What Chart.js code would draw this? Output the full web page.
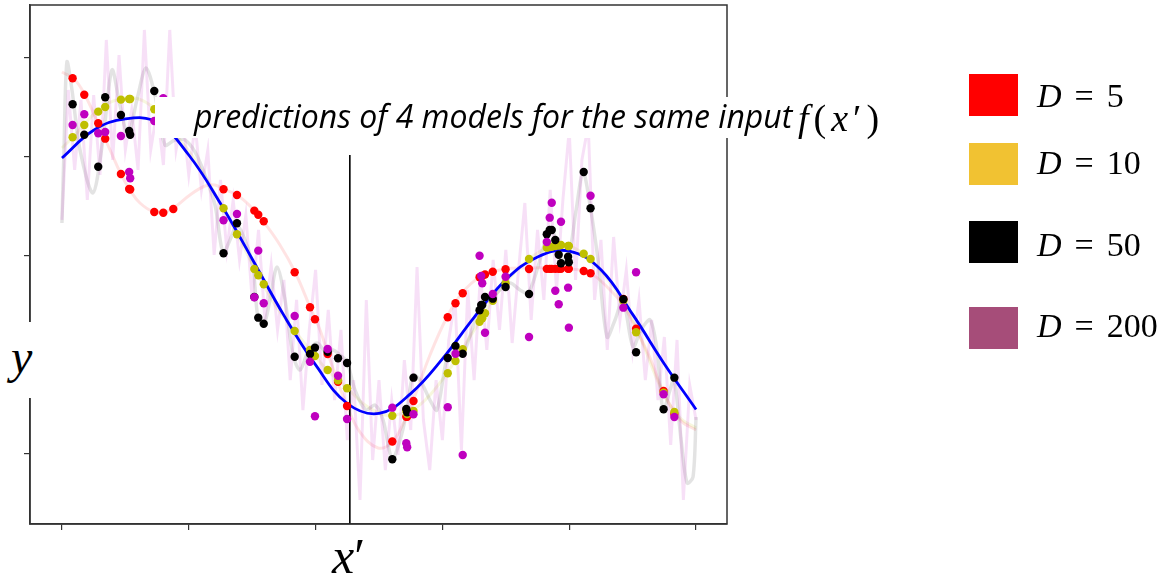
<!DOCTYPE html>
<html><head><meta charset="utf-8">
<script src="https://cdn.jsdelivr.net/npm/chart.js@4.4.1/dist/chart.umd.min.js"></script>
<style>
html,body{margin:0;padding:0;background:#fff;}
#wrap{position:relative;width:1161px;height:580px;overflow:hidden;background:#fff;}
#c{position:absolute;left:0;top:0;}
.abs{position:absolute;white-space:nowrap;color:#000;}
.math{font-family:"Liberation Serif","DejaVu Serif",serif;}
.sq{position:absolute;left:969px;width:49px;height:42px;}
.leg{position:absolute;left:1037px;font-family:"Liberation Serif",serif;font-size:34px;line-height:34px;white-space:nowrap;}
.leg i{margin-right:13px;}
.leg .eq{margin-right:13px;}
</style></head><body>
<div id="wrap">
<canvas id="c" width="1161" height="580"></canvas>
<div class="abs" style="left:155px;top:97px;width:735px;height:41px;background:#fff;"></div>
<div class="abs" style="left:194px;top:100px;font-family:'Open Sans',sans-serif;font-style:italic;font-size:32px;line-height:32px;">predictions of 4 models for the same input</div>
<div class="abs math" style="left:798px;top:99px;font-size:38px;line-height:38px;letter-spacing:5px;"><i>f</i>(<i>x</i>′)</div>
<div class="abs" style="left:0px;top:322px;width:44px;height:76px;background:#fff;"></div>
<div class="abs math" style="left:11px;top:333px;font-size:48px;line-height:48px;font-style:italic;">y</div>
<div class="abs math" style="left:332px;top:531px;font-size:50px;line-height:50px;"><i>x</i>′</div>
<div id="legend"></div>
</div>
<script>
// ---- data ----
const xPrime = 2.27;
const xTicks = [0, 1, 2, 3, 4, 5];
const yTicks = [-2, -1, 0, 1, 2];

const legendLabels = ['5', '10', '50', '200'];
const legendColors = ['#ff0000', '#f1c232', '#000000', '#a64d79'];

// ground-truth curve (blue)
const truthX = [0,0.25,0.5,0.75,1,1.25,1.5,1.75,2,2.25,2.5,2.75,3,3.25,3.5,3.75,4,4.25,4.5,4.75,5];
const truthY = [0.99,1.27,1.385,1.35,1.02,0.53,-0.03,-0.60,-1.10,-1.49,-1.59,-1.39,-1.04,-0.62,-0.24,-0.01,0.05,-0.14,-0.59,-1.09,-1.55];

// inputs where the 4 models' predictions are shown
const xs = [0.084,0.176,0.286,0.341,0.465,0.530,0.538,0.728,0.799,0.878,1.274,1.380,1.517,1.548,1.591,1.835,1.956,1.995,2.095,2.177,2.248,2.605,2.715,2.722,2.772,3.042,3.103,3.160,3.293,3.306,3.314,3.336,3.397,3.498,3.683,3.823,3.846,3.862,3.890,3.917,3.935,3.991,3.997,4.114,4.168,4.427,4.527,4.744,4.829];
const predD5 = [1.795,1.629,1.340,1.185,0.828,0.677,0.672,0.444,0.437,0.475,0.674,0.616,0.458,0.417,0.351,-0.165,-0.518,-0.639,-0.990,-1.270,-1.515,-1.874,-1.623,-1.623,-1.465,-0.619,-0.478,-0.377,-0.215,-0.207,-0.202,-0.187,-0.159,-0.134,-0.131,-0.13,-0.13,-0.13,-0.13,-0.13,-0.13,-0.13,-0.13,-0.152,-0.175,-0.434,-0.734,-1.364,-1.596];
const predD10 = [1.199,1.323,1.458,1.505,1.579,1.586,1.586,1.482,1.455,1.424,0.482,0.219,-0.131,-0.195,-0.286,-0.758,-0.949,-1.010,-1.152,-1.256,-1.336,-1.613,-1.566,-1.596,-1.566,-1.185,-1.061,-0.942,-0.664,-0.629,-0.629,-0.579,-0.452,-0.276,-0.030,0.084,0.091,0.094,0.101,0.106,0.111,0.101,0.101,0.023,-0.030,-0.452,-0.771,-1.381,-1.576];
const predD50 = [1.532,1.225,0.902,1.603,1.424,1.263,1.225,1.667,1.374,1.323,0.027,0.330,-0.414,-0.623,-0.684,-1.017,-0.990,-0.926,-0.967,-1.033,-1.081,-2.053,-1.545,-1.579,-1.229,-1.030,-0.909,-0.987,-0.548,-0.495,-0.495,-0.414,-0.431,-0.313,-0.384,0.219,0.263,0.263,0.162,0.013,-0.074,-0.007,-0.064,0.848,0.482,-0.437,-0.973,-1.548,-1.229];
const predD200 = [1.323,1.431,1.239,1.253,1.212,0.848,0.785,1.364,1.593,1.394,0.361,0.424,-0.417,0.054,-0.478,-0.606,-1.068,-1.619,-0.939,-1.209,-1.646,-1.532,-1.892,-1.932,-1.599,-1.527,-0.987,-2.010,0.003,-0.202,-0.276,-0.775,-0.384,-0.209,-0.818,0.141,0.387,0.538,-0.351,-0.488,0.346,-0.320,-0.724,null,0.609,-0.522,-0.165,-1.397,-1.626];

// faint fitted curves of each model
const curveD5X = [0,0.103,0.181,0.284,0.379,0.465,0.536,0.615,0.726,0.812,0.891,1.009,1.128,1.207,1.270,1.380,1.483,1.585,1.719,1.838,1.956,2.035,2.114,2.248,2.350,2.492,2.603,2.705,2.768,2.902,3.036,3.155,3.297,3.494,3.691,3.849,4.006,4.164,4.322,4.424,4.527,4.637,4.740,4.874,5.0];
const curveD5Y = [1.859,1.778,1.626,1.343,1.071,0.828,0.667,0.535,0.444,0.444,0.495,0.616,0.707,0.717,0.677,0.616,0.505,0.354,0.111,-0.162,-0.515,-0.747,-1.051,-1.515,-1.778,-1.939,-1.879,-1.657,-1.465,-1.000,-0.616,-0.374,-0.212,-0.131,-0.121,-0.121,-0.131,-0.172,-0.343,-0.495,-0.737,-1.030,-1.364,-1.657,-1.758];
const curveD10X = [0,0.103,0.221,0.339,0.457,0.576,0.694,0.812,0.931,1.049,1.167,1.270,1.380,1.546,1.680,1.838,1.995,2.114,2.248,2.390,2.547,2.666,2.768,2.902,3.036,3.155,3.297,3.391,3.494,3.683,3.849,3.991,4.117,4.243,4.424,4.558,4.740,4.874,5.0];
const curveD10Y = [1.091,1.222,1.394,1.525,1.586,1.596,1.525,1.374,1.172,0.970,0.717,0.485,0.222,-0.192,-0.495,-0.758,-1.010,-1.182,-1.333,-1.505,-1.606,-1.596,-1.556,-1.404,-1.182,-0.939,-0.657,-0.455,-0.273,-0.030,0.091,0.101,0.020,-0.141,-0.455,-0.818,-1.384,-1.636,-1.737];
const curveD50X = [0,0.016,0.039,0.079,0.142,0.244,0.323,0.394,0.457,0.521,0.591,0.662,0.733,0.812,0.891,0.970,1.049,1.128,1.207,1.270,1.325,1.380,1.443,1.506,1.546,1.593,1.640,1.696,1.759,1.822,1.877,1.940,2.011,2.082,2.137,2.192,2.248,2.311,2.397,2.468,2.532,2.603,2.666,2.721,2.768,2.823,2.902,2.957,3.036,3.099,3.162,3.233,3.297,3.375,3.454,3.533,3.612,3.675,3.746,3.825,3.864,3.896,3.927,3.991,4.054,4.109,4.164,4.227,4.298,4.361,4.424,4.503,4.566,4.637,4.692,4.740,4.795,4.826,4.882,4.929,4.976,5.0];
const curveD50Y = [0.333,1.071,1.960,1.677,1.071,0.636,1.172,1.879,1.525,1.222,1.576,1.899,1.626,1.121,1.172,1.172,1.051,0.818,0.515,0.030,0.162,0.313,0.162,-0.111,-0.626,-0.687,-0.444,-0.111,-0.444,-1.000,-1.152,-0.970,-0.879,-0.970,-0.949,-1.000,-1.071,-1.354,-1.556,-1.505,-1.657,-2.051,-1.859,-1.556,-1.202,-1.253,-1.455,-1.556,-1.030,-0.909,-0.980,-0.747,-0.515,-0.444,-0.343,-0.273,-0.343,-0.374,-0.141,0.212,0.263,0.162,-0.020,-0.020,0.465,0.848,0.515,-0.040,-0.818,-0.646,-0.444,-0.919,-0.747,-0.646,-0.949,-1.556,-1.354,-1.232,-1.859,-2.293,-2.232,-1.626];
const curveD200Step = 0.05;
const curveD200Y = [0.364,1.677,0.869,1.576,0.566,1.626,0.818,2.182,0.970,2.030,
 1.071,1.475,0.869,2.283,1.071,1.475,0.919,2.283,1.071,1.424,
 0.818,1.323,0.667,1.071,0.010,0.768,0.061,0.566,-0.040,0.414,
 -0.444,0.263,-0.646,-0.091,-0.747,-0.242,-1.253,-0.444,-1.556,-0.747,
 -0.141,-1.303,-0.545,-1.455,-0.747,-1.859,-1.253,-2.465,-0.444,-2.061,
 -1.253,-2.162,-1.455,-2.010,-1.051,-1.758,-0.111,-1.657,-2.162,-1.253,
 -1.859,-0.848,-0.444,-1.960,-0.343,-1.253,-0.192,-0.949,-0.040,-0.747,
 0.061,-0.879,-0.141,0.535,-0.646,0.263,-0.444,0.667,-0.343,0.566,
 1.273,-0.242,0.970,1.323,-0.444,0.162,-0.949,0.192,-0.646,-0.141,
 -0.949,-0.444,-1.253,-0.646,-1.455,-0.818,-1.909,-0.848,-2.465,-1.303,
 -1.657];

// ---- build ----
const pts = (X, Y) => X.map((x, i) => ({x, y: Y[i]}));
const curveD200X = curveD200Y.map((_, i) => +(i * curveD200Step).toFixed(2));
const X_MIN = -0.252, X_MAX = 5.244, Y_MIN = -2.707, Y_MAX = 2.535;

const lineDs = (data, color, width, order, tension) => ({
  type: 'line', data, borderColor: color, borderWidth: width, pointRadius: 0,
  fill: false, tension: tension, order, showLine: true
});
const dotDs = (data, color, order) => ({
  type: 'scatter', data, backgroundColor: color, borderWidth: 0,
  pointRadius: 4.2, pointHoverRadius: 4.2, order
});

const framePlugin = {
  id: 'frame',
  afterDraw(chart) {
    const {ctx, chartArea: a} = chart;
    ctx.save();
    ctx.strokeStyle = '#333';
    ctx.lineWidth = 1.5;
    ctx.strokeRect(a.left, a.top, a.right - a.left, a.bottom - a.top);
    ctx.restore();
  }
};

new Chart(document.getElementById('c'), {
  type: 'scatter',
  data: {
    datasets: [
      dotDs(pts(xs, predD200), '#bf00bf', 1),
      dotDs(pts(xs, predD50), '#000000', 2),
      dotDs(pts(xs, predD10), '#bfbf00', 3),
      dotDs(pts(xs, predD5), '#ff0000', 4),
      lineDs([{x: xPrime, y: 1.02}, {x: xPrime, y: Y_MIN}], '#000000', 1.6, 5, 0),
      lineDs(pts(truthX, truthY), '#0000ff', 2.8, 6, 0.4),
      lineDs(pts(curveD200X, curveD200Y), 'rgba(191,0,191,0.12)', 3, 7, 0),
      lineDs(pts(curveD50X, curveD50Y), 'rgba(0,0,0,0.11)', 3.5, 8, 0.3),
      lineDs(pts(curveD10X, curveD10Y), 'rgba(191,191,0,0.13)', 3, 9, 0.4),
      lineDs(pts(curveD5X, curveD5Y), 'rgba(255,0,0,0.11)', 3, 10, 0.4)
    ]
  },
  options: {
    responsive: false,
    animation: false,
    events: [],
    layout: {padding: {left: 24, top: 5, right: 434, bottom: 50}},
    plugins: {legend: {display: false}, tooltip: {enabled: false}},
    scales: {
      x: {
        type: 'linear', min: X_MIN, max: X_MAX,
        afterBuildTicks: s => { s.ticks = xTicks.map(v => ({value: v})); },
        ticks: {display: false},
        grid: {display: true, drawOnChartArea: false, drawTicks: true, tickLength: 6, color: '#333', lineWidth: 1.2},
        border: {display: true, color: '#333', width: 1.5}
      },
      y: {
        type: 'linear', min: Y_MIN, max: Y_MAX,
        afterBuildTicks: s => { s.ticks = yTicks.map(v => ({value: v})); },
        ticks: {display: false},
        grid: {display: true, drawOnChartArea: false, drawTicks: true, tickLength: 6, color: '#333', lineWidth: 1.2},
        border: {display: true, color: '#333', width: 1.5}
      }
    }
  },
  plugins: [framePlugin]
});

// legend (HTML text)
const legTops = [74, 143, 221, 307];
const legTextTops = [79, 146, 228, 309];
const legEl = document.getElementById('legend');
legendLabels.forEach((lab, i) => {
  const sq = document.createElement('div');
  sq.className = 'sq';
  sq.style.top = legTops[i] + 'px';
  sq.style.background = legendColors[i];
  legEl.appendChild(sq);
  const t = document.createElement('div');
  t.className = 'leg';
  t.style.top = legTextTops[i] + 'px';
  t.innerHTML = '<i>D</i><span class="eq">=</span>' + lab;
  legEl.appendChild(t);
});
</script>
</body></html>
